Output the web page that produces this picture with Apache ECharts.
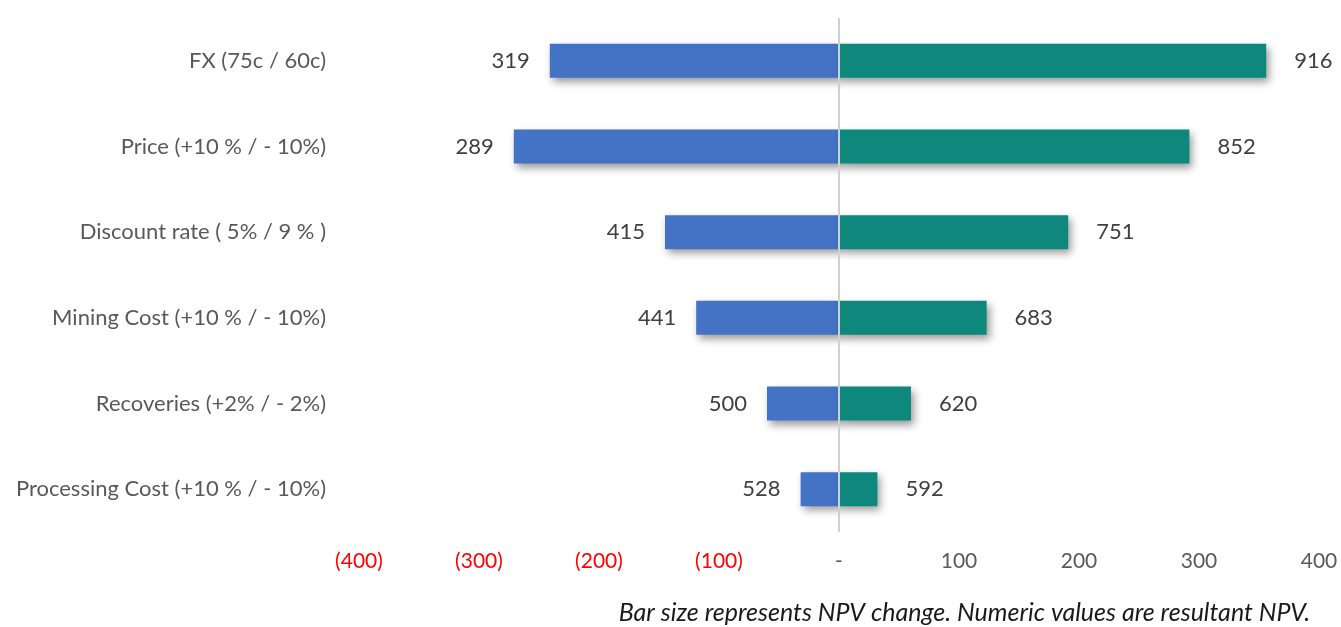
<!DOCTYPE html>
<html><head><meta charset="utf-8">
<style>html,body{margin:0;padding:0;background:#fff}#c{width:1341px;height:627px}</style>
<script src="https://cdn.jsdelivr.net/npm/echarts@6/dist/echarts.min.js"></script>
</head><body><div id="c"></div>
<script>
const categories = ['FX (75c / 60c)','Price (+10 % / - 10%)','Discount rate ( 5% / 9 % )','Mining Cost (+10 % / - 10%)','Recoveries (+2% / - 2%)','Processing Cost (+10 % / - 10%)'];
const lowNPV = [319, 289, 415, 441, 500, 528];
const highNPV = [916, 852, 751, 683, 620, 592];
const baseNPV = 560;
const xTicks = [-400,-300,-200,-100,0,100,200,300,400];
const footnote = 'Bar size represents NPV change. Numeric values are resultant NPV.';

const FONT = 'Lato';
const chart = echarts.init(document.getElementById('c'));
const shadow = {shadowBlur: 8, shadowOffsetX: 3, shadowOffsetY: 4, shadowColor: 'rgba(0,0,0,0.4)'};
chart.setOption({
  animation: false,
  textStyle: {fontFamily: FONT},
  grid: {left: 359, right: 22, top: 18, bottom: 95, containLabel: false},
  xAxis: {
    type: 'value', min: xTicks[0], max: xTicks[xTicks.length-1], interval: 100,
    axisLine: {show: false}, axisTick: {show: false}, splitLine: {show: false},
    axisLabel: {
      margin: 19, fontSize: 21, fontFamily: FONT,
      color: v => v < 0 ? '#FF0000' : '#595959',
      formatter: v => v < 0 ? '(' + (-v) + ')' : (v === 0 ? '-' : String(v))
    }
  },
  yAxis: {
    type: 'category', data: categories, inverse: true,
    axisLine: {show: false}, axisTick: {show: false},
    axisLabel: {margin: 33, fontSize: 22, color: '#595959', fontFamily: FONT}
  },
  series: [
    {
      name: 'low', type: 'bar', stack: 't', barWidth: 34,
      data: lowNPV.map(v => v - baseNPV),
      itemStyle: Object.assign({color: '#4472C4'}, shadow),
      label: {show: true, position: 'left', distance: 20, fontSize: 22, color: '#404040', fontFamily: FONT,
        formatter: p => String(lowNPV[p.dataIndex])},
      markLine: {silent: true, symbol: 'none', label: {show: false},
        lineStyle: {color: '#D0D0D0', width: 2, type: 'solid'}, data: [{xAxis: 0}]}
    },
    {
      name: 'high', type: 'bar', stack: 't2', barWidth: 34, barGap: '-100%',
      data: highNPV.map(v => v - baseNPV),
      itemStyle: Object.assign({color: '#0E887D'}, shadow),
      label: {show: true, position: 'right', distance: 28, fontSize: 22, color: '#404040', fontFamily: FONT,
        formatter: p => String(highNPV[p.dataIndex])}
    }
  ],
  graphic: [{
    type: 'text', right: 31, top: 600,
    style: {text: footnote, font: 'italic 25px ' + FONT, fill: '#1a1a1a'}
  }]
});
</script></body></html>
